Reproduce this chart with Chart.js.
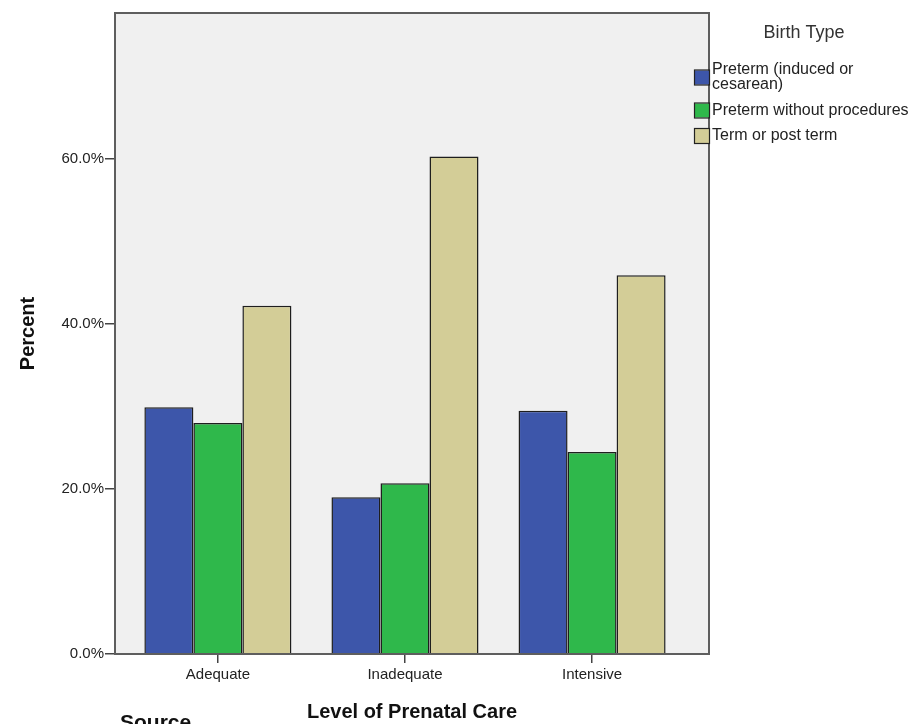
<!DOCTYPE html>
<html>
<head>
<meta charset="utf-8">
<script src="https://cdn.jsdelivr.net/npm/chart.js@4.4.0/dist/chart.umd.min.js"></script>
<style>
  html, body { margin: 0; padding: 0; background: #fff; overflow: hidden; }
  #wrap { width: 915px; height: 724px; position: relative; }
</style>
</head>
<body>
<div id="wrap"><canvas id="chart" width="915" height="724"></canvas></div>
<script>
// categories and values
const careLevels = ['Adequate', 'Inadequate', 'Intensive'];
const pretermInduced = [29.9, 19.0, 29.5];
const pretermNoProc = [28.0, 20.7, 24.5];
const termOrPost = [42.2, 60.3, 45.9];
const seriesLabels = [['Preterm (induced or', 'cesarean)'], 'Preterm without procedures', 'Term or post term'];
const seriesColors = ['#3d56aa', '#2fb84b', '#d3cd97'];
const yTicks = [0, 20, 40, 60];
const legendTitle = 'Birth Type';
const sourceText = 'Source';

const FONT = "'Liberation Sans', Arial, sans-serif";

const frame = {
    id: 'frame',
    beforeDatasetsDraw(chart) {
        const { ctx, chartArea: a } = chart;
        ctx.save();
        ctx.fillStyle = '#f0f0f0';
        ctx.fillRect(a.left, a.top, a.right - a.left, a.bottom - a.top);
        ctx.restore();
    },
    afterDatasetsDraw(chart) {
        const { ctx, chartArea: a } = chart;
        ctx.save();
        ctx.strokeStyle = '#5e5e5e';
        ctx.lineWidth = 2;
        ctx.strokeRect(a.left, a.top, a.right - a.left, a.bottom - a.top);
        ctx.restore();
    }
};

// legend drawn by hand so the first label can wrap on two lines
const sideLegend = {
    id: 'sideLegend',
    afterDraw(chart) {
        const { ctx, chartArea: a } = chart;
        ctx.save();
        ctx.fillStyle = '#333';
        ctx.font = '18px ' + FONT;
        ctx.textAlign = 'center';
        ctx.textBaseline = 'middle';
        ctx.fillText(legendTitle, 804, 33);

        ctx.font = '16px ' + FONT;
        ctx.textAlign = 'left';
        let y = 70;
        chart.data.datasets.forEach(ds => {
            const lines = Array.isArray(ds.label) ? ds.label : [ds.label];
            const mid = y + (lines.length - 1) * 15 / 2;
            ctx.fillStyle = ds.backgroundColor;
            ctx.fillRect(a.right - 14, mid - 7, 14, 14);
            ctx.strokeStyle = '#222';
            ctx.lineWidth = 1.2;
            ctx.strokeRect(a.right - 14.5, mid - 7.5, 15, 15);
            ctx.fillStyle = '#222';
            lines.forEach((t, i) => ctx.fillText(t, a.right + 3, y + i * 15));
            y += (lines.length - 1) * 15 + 25.5;
        });

        ctx.font = 'bold 21px ' + FONT;
        ctx.fillStyle = '#111';
        ctx.textBaseline = 'alphabetic';
        ctx.fillText(sourceText, 120, 729);
        ctx.restore();
    }
};

new Chart(document.getElementById('chart').getContext('2d'), {
    type: 'bar',
    data: {
        datasets: [pretermInduced, pretermNoProc, termOrPost].map((vals, i) => ({
            label: seriesLabels[i],
            data: vals.map((v, j) => ({ x: j, y: v })),
            backgroundColor: seriesColors[i],
            borderColor: '#1e1e1e',
            borderWidth: 1.5
        }))
    },
    options: {
        responsive: false,
        animation: false,
        layout: { padding: { top: 13, right: 206, left: 0, bottom: 0 } },
        categoryPercentage: 0.786,
        barPercentage: 1,
        plugins: { legend: { display: false }, tooltip: { enabled: false } },
        scales: {
            x: {
                type: 'linear',
                min: -0.55,
                max: 2.625,
                offset: false,
                afterBuildTicks: s => { s.ticks = careLevels.map((c, i) => ({ value: i })); },
                afterFit: s => { s.height = 70; },
                ticks: {
                    callback: v => careLevels[v],
                    color: '#222',
                    font: { family: FONT, size: 15 },
                    padding: 3,
                    maxRotation: 0
                },
                grid: { drawOnChartArea: false, offset: false, tickLength: 9, color: '#444', lineWidth: 1.5 },
                border: { display: false },
                title: {
                    display: true,
                    text: 'Level of Prenatal Care',
                    color: '#111',
                    font: { family: FONT, size: 20, weight: 'bold' },
                    padding: { top: 0, bottom: 0 }
                }
            },
            y: {
                min: 0,
                max: 77.7,
                afterBuildTicks: s => { s.ticks = yTicks.map(v => ({ value: v })); },
                afterFit: s => { s.width = 115; },
                ticks: {
                    callback: v => v.toFixed(1) + '%',
                    color: '#222',
                    font: { family: FONT, size: 15 },
                    padding: 1
                },
                grid: { drawOnChartArea: false, tickLength: 10, color: '#444', lineWidth: 1.5 },
                border: { display: false },
                title: {
                    display: true,
                    text: 'Percent',
                    color: '#111',
                    font: { family: FONT, size: 20, weight: 'bold' },
                    padding: { top: 16, bottom: 0 }
                }
            }
        }
    },
    plugins: [frame, sideLegend]
});
</script>
</body>
</html>
